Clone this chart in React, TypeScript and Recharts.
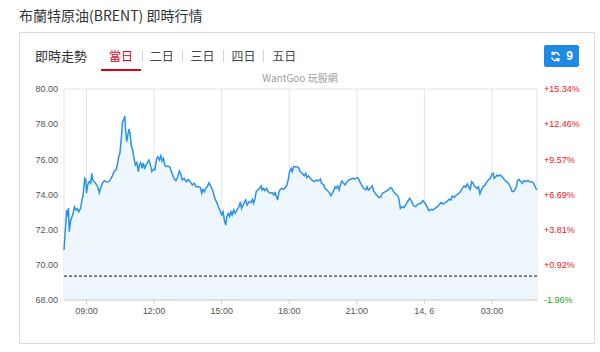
import React from 'react';
import { ComposedChart, Area, XAxis, YAxis, CartesianGrid, ReferenceLine } from 'recharts';

// minutes since 08:00 (13 Jun) and Brent price at that moment
const times = [
  0, 7, 9, 12, 14, 18, 23, 28, 32, 36, 39, 44, 48, 51, 55, 58, 60, 63, 67, 71, 74, 76, 81, 85, 90, 94, 98,
  103, 108, 114, 119, 123, 128, 133, 139, 142, 146, 149, 153, 156, 159, 162, 164, 167, 170, 173, 176, 179,
  183, 186, 190, 194, 198, 201, 204, 208, 211, 215, 218, 222, 226, 229, 234, 238, 242, 247, 250, 254, 258,
  261, 265, 268, 272, 277, 282, 288, 293, 298, 303, 307, 312, 315, 320, 326, 331, 336, 342, 347, 352, 358,
  363, 367, 370, 374, 377, 382, 386, 392, 397, 402, 408, 413, 416, 420, 424, 427, 431, 434, 438, 441, 445,
  448, 452, 456, 461, 466, 470, 473, 479, 484, 488, 493, 498, 502, 505, 509, 512, 516, 521, 525, 528, 532,
  535, 540, 544, 550, 555, 559, 562, 566, 569, 573, 576, 580, 585, 591, 594, 598, 601, 605, 608, 612, 621,
  626, 629, 635, 640, 644, 647, 651, 656, 661, 667, 672, 677, 683, 686, 692, 695, 701, 706, 711, 717, 722,
  725, 729, 733, 736, 740, 745, 749, 754, 759, 765, 770, 775, 781, 784, 789, 793, 798, 804, 807, 811, 816,
  821, 825, 829, 834, 839, 844, 848, 853, 859, 864, 869, 873, 878, 884, 889, 892, 896, 900, 905, 910, 915,
  921, 926, 931, 937, 942, 951, 956, 962, 967, 972, 978, 983, 988, 994, 999, 1004, 1010, 1015, 1020, 1026,
  1031, 1034, 1040, 1045, 1050, 1056, 1061, 1066, 1070, 1074, 1077, 1082, 1086, 1090, 1093, 1097, 1100,
  1104, 1108, 1111, 1114, 1118, 1122, 1125, 1129, 1132, 1136, 1139, 1143, 1146, 1150, 1154, 1157, 1162,
  1168, 1173, 1178, 1184, 1189, 1194, 1200, 1205, 1208, 1212, 1217, 1221, 1225, 1230, 1235, 1241, 1246,
  1251, 1257, 1260,
];
const prices = [
  70.84, 73.12, 72.74, 73.23, 71.88, 72.55, 72.83, 73.3, 73.12, 73.2, 73.02, 73.2, 73.69, 73.97, 74.92,
  74.83, 74.07, 74.54, 74.73, 74.64, 75.2, 74.83, 74.73, 74.6, 74.44, 74.1, 74.4, 74.67, 74.79, 74.71,
  74.73, 74.83, 75.01, 75.3, 75.4, 75.68, 76.15, 76.34, 77.29, 78.14, 78.24, 78.46, 77.67, 77.0, 77.38,
  77.71, 77.48, 76.81, 76.53, 76.15, 75.68, 75.81, 75.3, 75.68, 75.8, 75.49, 75.8, 75.44, 75.68, 75.8,
  75.96, 75.77, 75.3, 75.44, 75.4, 76.06, 76.15, 75.96, 76.2, 75.9, 76.06, 75.68, 75.58, 75.62, 75.55,
  75.2, 74.92, 74.79, 75.01, 75.34, 75.11, 74.82, 74.92, 74.73, 74.86, 74.73, 74.54, 74.64, 74.44, 74.44,
  74.41, 74.07, 74.29, 74.16, 74.35, 74.44, 74.67, 74.44, 74.16, 73.78, 73.5, 73.21, 73.08, 72.83, 73.02,
  72.55, 72.26, 72.78, 72.93, 72.74, 73.02, 72.83, 73.12, 72.93, 73.12, 73.3, 73.59, 73.21, 73.5, 73.69,
  73.4, 73.59, 73.53, 73.73, 73.5, 73.78, 74.16, 74.26, 74.35, 74.48, 74.26, 74.35, 74.22, 74.35, 74.16,
  74.07, 74.1, 73.97, 74.1, 73.88, 73.69, 74.16, 74.29, 74.35, 74.29, 74.44, 74.54, 74.92, 75.3, 75.49,
  75.3, 75.58, 75.58, 75.49, 75.3, 75.2, 75.07, 75.2, 74.96, 75.07, 74.92, 74.82, 74.73, 74.82, 74.77,
  74.88, 74.64, 74.54, 74.35, 74.26, 74.12, 73.93, 74.16, 74.44, 74.35, 74.49, 74.26, 74.54, 74.77, 74.64,
  74.54, 74.73, 74.82, 74.88, 74.92, 74.88, 74.96, 74.92, 74.69, 74.54, 74.35, 74.26, 74.44, 74.26, 74.35,
  74.49, 74.2, 74.07, 73.93, 73.82, 73.86, 74.07, 74.12, 74.2, 74.26, 74.39, 74.35, 74.16, 74.01, 73.93,
  73.78, 73.21, 73.31, 73.25, 73.4, 73.59, 73.78, 73.63, 73.36, 73.31, 73.44, 73.5, 73.65, 73.5, 73.3,
  73.08, 73.16, 73.12, 73.21, 73.3, 73.4, 73.54, 73.46, 73.54, 73.59, 73.73, 73.69, 73.91, 73.84, 73.97,
  74.03, 74.16, 74.35, 74.48, 74.41, 74.6, 74.48, 74.29, 74.73, 74.64, 74.48, 74.41, 74.35, 74.44, 74.03,
  74.22, 74.35, 74.48, 74.54, 74.67, 74.79, 74.86, 74.92, 75.11, 75.2, 74.92, 75.01, 75.11, 75.05, 75.11,
  74.98, 74.86, 74.73, 74.64, 74.44, 74.16, 74.22, 74.44, 74.79, 74.86, 74.73, 74.64, 74.79, 74.73, 74.79,
  74.73, 74.73, 74.64, 74.35, 74.26,
];

const prevClose = 69.36;
const yTicks = [68, 70, 72, 74, 76, 78, 80];
const pctLabels = ['-1.96%', '+0.92%', '+3.81%', '+6.69%', '+9.57%', '+12.46%', '+15.34%'];
const xTicks = [60, 240, 420, 600, 780, 960, 1140];
const xTickLabels = ['09:00', '12:00', '15:00', '18:00', '21:00', '14, 6', '03:00'];
const tabs = ['當日', '二日', '三日', '四日', '五日'];

const data = times.map((t, i) => ({ t, price: prices[i] }));

const axisFont = 'Arial, "Liberation Sans", sans-serif';
const cjkFont = '"Noto Sans CJK TC", "Noto Sans", sans-serif';

const RightTick = (props: any) => {
  const { x, y, payload } = props;
  const idx = yTicks.indexOf(payload.value);
  const label = pctLabels[idx];
  return (
    <text x={x} y={y} dy="0.355em" fontSize={9} fontFamily={axisFont} fill={label.startsWith('-') ? '#13a813' : '#f0141e'}>
      {label}
    </text>
  );
};

export default function App() {
  return (
    <div style={{ position: 'absolute', left: 0, top: 0, width: 600, height: 352, background: '#fff', fontFamily: cjkFont }}>
      <div style={{ position: 'absolute', left: 19, top: 6, fontSize: 14, lineHeight: '18px', color: '#333' }}>
        布蘭特原油(BRENT) 即時行情
      </div>
      <div style={{ position: 'absolute', left: 19, top: 32, width: 576, height: 312, border: '1px solid #dcdcdc', boxSizing: 'border-box' }} />

      <div style={{ position: 'absolute', left: 35, top: 47, fontSize: 13, lineHeight: '18px', color: '#333' }}>即時走勢</div>
      {tabs.map((tab, i) => (
        <div key={tab} style={{ position: 'absolute', left: 109 + i * 40.8, top: 47, width: 24, fontSize: 12, lineHeight: '18px', color: i === 0 ? '#e0001b' : '#444' }}>
          {tab}
        </div>
      ))}
      {[0, 1, 2, 3].map((i) => (
        <div key={i} style={{ position: 'absolute', left: 141.5 + i * 40.6, top: 50, width: 1, height: 12, background: '#d5d5d5' }} />
      ))}
      <div style={{ position: 'absolute', left: 101, top: 69, width: 40, height: 2, background: '#e0001b' }} />

      <div style={{ position: 'absolute', left: 544, top: 45, width: 35, height: 22, background: '#1f8ae6', borderRadius: 2, display: 'flex', alignItems: 'center', justifyContent: 'center', gap: 5 }}>
        <svg width="11" height="11" viewBox="0 0 24 24" fill="none" stroke="#fff" strokeWidth={3.2} strokeLinecap="round">
          <path d="M20 9a8.5 8.5 0 0 0-15-2" />
          <path d="M4 15a8.5 8.5 0 0 0 15 2" />
          <path d="M5 2v5h5" strokeLinejoin="round" />
          <path d="M19 22v-5h-5" strokeLinejoin="round" />
        </svg>
        <span style={{ color: '#fff', fontSize: 12, fontWeight: 'bold', fontFamily: axisFont }}>9</span>
      </div>

      <div style={{ position: 'absolute', left: 200, top: 71, width: 200, textAlign: 'center', fontSize: 10, lineHeight: '14px', color: '#a0a0a0' }}>
        WantGoo 玩股網
      </div>

      <div style={{ position: 'absolute', left: 0, top: 0 }}>
        <ComposedChart width={600} height={352} data={data} margin={{ top: 89, right: 0, bottom: 22, left: 0 }}>
          <CartesianGrid stroke="#e4e4e4" />
          <XAxis
            dataKey="t"
            type="number"
            domain={[0, 1260]}
            ticks={xTicks}
            tickFormatter={(v: number) => xTickLabels[xTicks.indexOf(v)]}
            height={30}
            stroke="#cfcfcf"
            tickSize={4}
            tickMargin={4}
            tick={{ fill: '#555', fontSize: 9, fontFamily: axisFont }}
          />
          <YAxis
            yAxisId="left"
            orientation="left"
            domain={[68, 80]}
            ticks={yTicks}
            width={64}
            axisLine={false}
            tickLine={false}
            tickSize={4}
            tickMargin={2}
            tickFormatter={(v: number) => v.toFixed(2)}
            tick={{ fill: '#555', fontSize: 9, fontFamily: axisFont }}
          />
          <YAxis
            yAxisId="right"
            orientation="right"
            domain={[68, 80]}
            ticks={yTicks}
            width={63}
            axisLine={false}
            tickLine={false}
            tickSize={5}
            tickMargin={2}
            tick={<RightTick />}
          />
          <Area
            yAxisId="left"
            type="linear"
            dataKey="price"
            stroke="#2a92ea"
            strokeWidth={1.5}
            fill="#eef6fe"
            fillOpacity={1}
            dot={false}
            activeDot={false}
            isAnimationActive={false}
          />
          <Area
            yAxisId="right"
            type="linear"
            dataKey="price"
            stroke="none"
            fill="none"
            dot={false}
            activeDot={false}
            isAnimationActive={false}
          />
          <ReferenceLine yAxisId="left" y={prevClose} stroke="#111" strokeDasharray="3 2" />
        </ComposedChart>
      </div>
    </div>
  );
}
